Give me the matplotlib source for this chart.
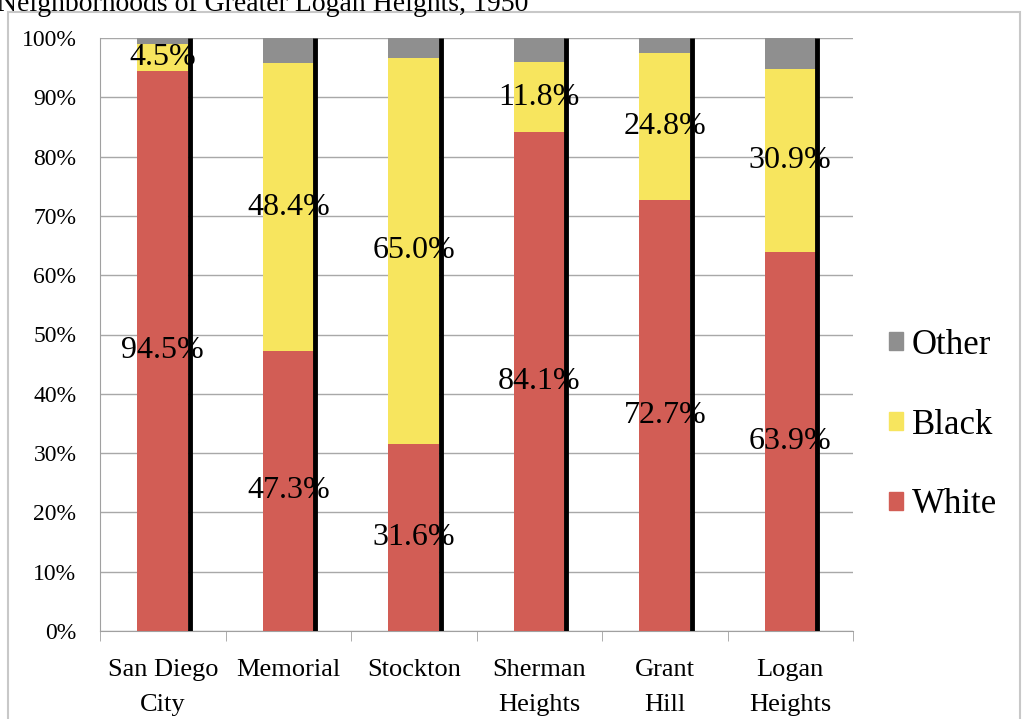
import numpy as np
import matplotlib.pyplot as plt
from matplotlib.patches import Rectangle

plt.rcParams['font.family'] = ['Liberation Serif', 'DejaVu Serif']

categories = ["San Diego\nCity", "Memorial", "Stockton", "Sherman\nHeights", "Grant\nHill", "Logan\nHeights"]
white = [94.5, 47.3, 31.6, 84.1, 72.7, 63.9]
black = [4.5, 48.4, 65.0, 11.8, 24.8, 30.9]
other = [1.0, 4.3, 3.4, 4.1, 2.5, 5.2]

c_white = "#D25D55"
c_black = "#F7E55E"
c_other = "#8F8F8F"

fig = plt.figure(figsize=(10.27, 7.19), dpi=100)
# light frame around the chart area (runs past the bottom edge)
fig.patches.append(Rectangle((8 / 1027, -0.05), 1012 / 1027, 1.05 - 12 / 719,
                             transform=fig.transFigure, fill=False,
                             edgecolor="#C8C8C8", linewidth=1.5))
fig.text(-0.003, 1 - 11 / 719, "Neighborhoods of Greater Logan Heights, 1950",
         fontsize=20, ha="left", va="baseline")

ax = fig.add_axes([100 / 1027, 1 - 631 / 719, (853 - 100) / 1027, (631 - 38) / 719])
x = np.arange(len(categories))
w = 0.41
bottom2 = np.array(white) + np.array(black)

ax.bar(x, white, w, color=c_white, zorder=3)
ax.bar(x, black, w, bottom=white, color=c_black, zorder=3)
ax.bar(x, other, w, bottom=bottom2, color=c_other, zorder=3)
# dark shadow along the right edge of each bar
for xi in x:
    ax.plot([xi + w / 2 + 0.012, xi + w / 2 + 0.012], [0, 100], color="black",
            linewidth=3.5, zorder=4, solid_capstyle="butt")

for xi, wv, bv in zip(x, white, black):
    ax.text(xi, wv / 2, f"{wv:.1f}%", ha="center", va="center", fontsize=23, zorder=5)
    ax.text(xi, wv + bv / 2, f"{bv:.1f}%", ha="center", va="center", fontsize=23, zorder=5)

ax.set_xlim(-0.5, len(categories) - 0.5)
ax.set_ylim(0, 100)
ax.set_yticks(np.arange(0, 101, 10))
ax.set_yticklabels([f"{v}%" for v in range(0, 101, 10)], fontsize=17)
ax.set_xticks(x)
ax.set_xticklabels(categories, fontsize=19, linespacing=1.75)
ax.tick_params(axis="x", length=0, pad=20)
ax.tick_params(axis="y", length=0, pad=17)
ax.set_xticks(np.arange(-0.5, len(categories), 1), minor=True)
ax.tick_params(axis="x", which="minor", length=7, color="#A0A0A0", direction="out")
ax.grid(axis="y", color="#A8A8A8", linewidth=1, zorder=0)
for s in ["top", "right"]:
    ax.spines[s].set_visible(False)
for s in ["left", "bottom"]:
    ax.spines[s].set_color("#A0A0A0")

handles = [Rectangle((0, 0), 1, 1, color=c) for c in (c_other, c_black, c_white)]
fig.legend(handles, ["Other", "Black", "White"], loc="center left",
           bbox_to_anchor=(858 / 1027, 1 - 425 / 719), frameon=False, fontsize=25,
           handlelength=0.4, handleheight=0.4, handletextpad=0.25, labelspacing=1.35)

fig.savefig("out.png", dpi=100)
